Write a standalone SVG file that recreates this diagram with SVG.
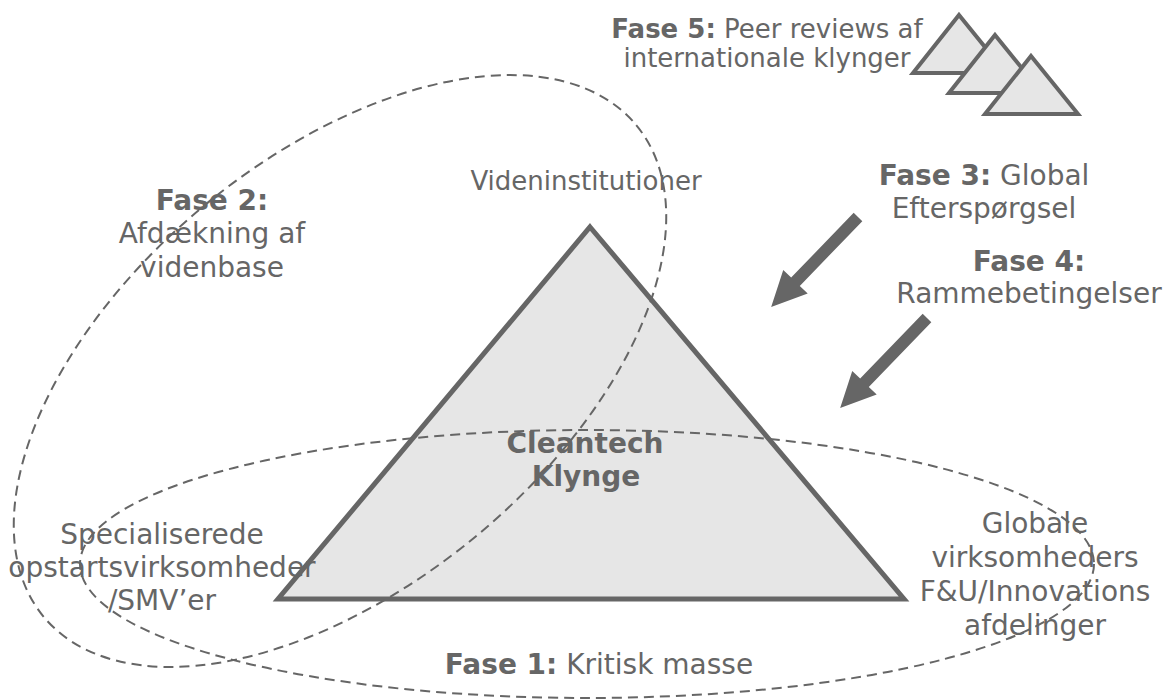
<svg xmlns="http://www.w3.org/2000/svg" width="1166" height="700" viewBox="0 0 1166 700">
<style>
.t{font-family:"DejaVu Sans",Verdana,sans-serif;font-size:28px;fill:#666;text-anchor:middle}
.s{font-size:26px}
.b{font-weight:bold}
.tri{fill:#e6e6e6;stroke:#666;stroke-width:5;stroke-linejoin:miter}
.st{fill:#e6e6e6;stroke:#666;stroke-width:4}
.ell{fill:none;stroke:#666;stroke-width:2;stroke-dasharray:10 6}
.arr{fill:#666}
</style>
<defs>
<path id="arrow" d="M0,-6 L90,-6 L90,-17 L125,0 L90,17 L90,6 L0,6 Z"/>
<path id="smalltri" d="M0,0 L47,58 L-46,58 Z"/>
</defs>
<rect width="1166" height="700" fill="#fff"/>
<g id="peer-clusters">
<use href="#smalltri" class="st" x="959" y="15"/>
<use href="#smalltri" class="st" x="995" y="35"/>
<use href="#smalltri" class="st" x="1031" y="56"/>
</g>
<g id="cluster">
<path class="tri" d="M590,227 L904,599 L278,599 Z"/>
</g>
<g id="connectors">
<ellipse id="fase1-ellipse" class="ell" cx="587" cy="564" rx="507" ry="134"/>
<ellipse id="fase2-ellipse" class="ell" cx="0" cy="0" rx="385" ry="214" transform="translate(340,371) rotate(-39.7)"/>
<use href="#arrow" class="arr" transform="translate(858,217) rotate(134)"/>
<use href="#arrow" class="arr" transform="translate(927,318) rotate(134)"/>
</g>
<g id="label-fase5">
<text class="t s" x="767" y="38"><tspan class="b">Fase 5:</tspan> Peer reviews af</text>
<text class="t s" x="767" y="67">internationale klynger</text>
</g>
<g id="label-fase3">
<text class="t" x="984" y="185"><tspan class="b">Fase 3:</tspan> Global</text>
<text class="t" x="984" y="218">Efterspørgsel</text>
</g>
<g id="label-fase4">
<text class="t b" x="1029" y="271">Fase 4:</text>
<text class="t" x="1029" y="303">Rammebetingelser</text>
</g>
<g id="label-fase2">
<text class="t b" x="212" y="210">Fase 2:</text>
<text class="t" x="212" y="243">Afdækning af</text>
<text class="t" x="212" y="277">videnbase</text>
</g>
<g id="label-viden">
<text class="t s" x="586" y="190">Videninstitutioner</text>
</g>
<g id="label-cleantech">
<text class="t b" x="585" y="453">Cleantech</text>
<text class="t b" x="586" y="486">Klynge</text>
</g>
<g id="label-smv">
<text class="t" x="162" y="544">Specialiserede</text>
<text class="t" x="162" y="577">opstartsvirksomheder</text>
<text class="t" x="162" y="610">/SMV’er</text>
</g>
<g id="label-globale">
<text class="t" x="1035" y="533">Globale</text>
<text class="t" x="1035" y="567">virksomheders</text>
<text class="t" x="1035" y="601">F&amp;U/Innovations</text>
<text class="t" x="1035" y="635">afdelinger</text>
</g>
<g id="label-fase1">
<text class="t" x="599" y="674"><tspan class="b">Fase 1:</tspan> Kritisk masse</text>
</g>
</svg>
